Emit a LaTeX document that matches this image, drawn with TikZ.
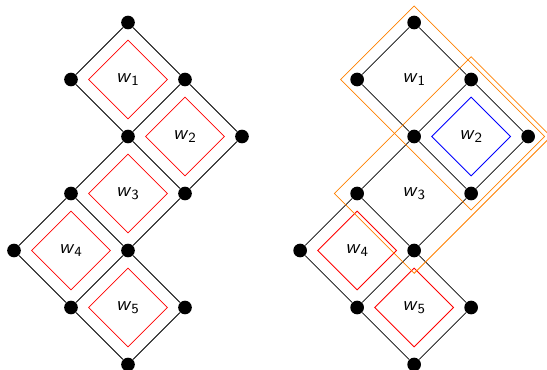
\documentclass[tikz,border=0pt]{standalone}
\usepackage{amsmath}
\usetikzlibrary{shapes.geometric}

\tikzset{
  vertex/.style={circle, fill=black, inner sep=0pt, minimum size=0.24cm},
  lattice/.style={draw=black, line width=0.4pt},
  cell/.style={diamond, aspect=1, inner sep=0pt, outer sep=0pt,
               minimum width=1.38cm, minimum height=1.38cm, line width=0.4pt},
  hull/.style={draw=orange, line width=0.4pt},
}
\newcommand\wlabel[1]{$\textsf{\textit{w}}_{\mathsf{#1}}$}

\begin{document}
\begin{tikzpicture}
\useasboundingbox (0,0) rectangle (9.5965,6.4737);

% the same lattice of five squares, twice
\foreach \p/\dx in {L/0, R/5.02} {
  \begin{scope}[shift={(0.2456+\dx,0.0789)}]
    \foreach \a/\b in {2/6, 1/5, 3/5, 2/4, 4/4, 1/3, 3/3, 0/2, 2/2, 1/1, 3/1, 2/0}
      \node[vertex] (\p-\a-\b) at (\a,\b) {};
    \foreach \u/\v in {2-6/3-5, 3-5/2-4, 2-4/1-5, 1-5/2-6,
                       3-5/4-4, 4-4/3-3, 3-3/2-4,
                       3-3/2-2, 2-2/1-3, 1-3/2-4,
                       2-2/1-1, 1-1/0-2, 0-2/1-3,
                       2-2/3-1, 3-1/2-0, 2-0/1-1}
      \draw[lattice] (\p-\u) -- (\p-\v);
  \end{scope}
}

% left: every square marked
\begin{scope}[shift={(0.2456,0.0789)}]
  \node[cell, draw=red] (L-w1) at (2,5) {\wlabel{1}};
  \node[cell, draw=red] (L-w2) at (3,4) {\wlabel{2}};
  \node[cell, draw=red] (L-w3) at (2,3) {\wlabel{3}};
  \node[cell, draw=red] (L-w4) at (1,2) {\wlabel{4}};
  \node[cell, draw=red] (L-w5) at (2,1) {\wlabel{5}};
\end{scope}

% right: w2 singled out, two overlapping pairs around it
\begin{scope}[shift={(5.2656,0.0789)}]
  \node[cell] (R-w1) at (2,5) {\wlabel{1}};
  \node[cell, draw=blue] (R-w2) at (3,4) {\wlabel{2}};
  \node[cell] (R-w3) at (2,3) {\wlabel{3}};
  \node[cell, draw=red] (R-w4) at (1,2) {\wlabel{4}};
  \node[cell, draw=red] (R-w5) at (2,1) {\wlabel{5}};
\end{scope}

% pair w1+w2
\draw[hull] ([yshift=0.29cm]R-2-6.center) -- ([xshift=-0.29cm]R-1-5.center)
  -- ([yshift=-0.29cm]R-3-3.center) -- ([xshift=0.29cm]R-4-4.center) -- cycle;
% pair w2+w3
\draw[hull] ([xshift=-0.4cm]R-1-3.center) -- ([yshift=0.4cm]R-3-5.center)
  -- ([xshift=0.4cm]R-4-4.center) -- ([yshift=-0.4cm]R-2-2.center) -- cycle;
\end{tikzpicture}
\end{document}
